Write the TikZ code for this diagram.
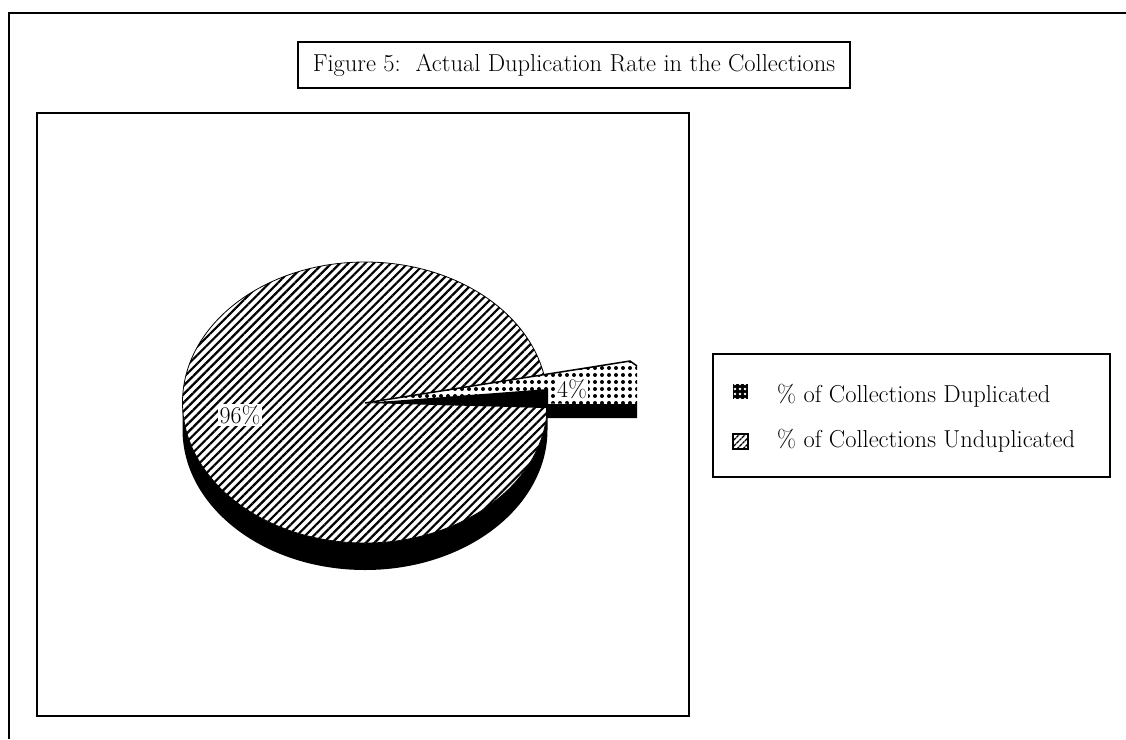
\documentclass[tikz,border=0pt]{standalone}
\usepackage{fontspec}
\usetikzlibrary{patterns.meta}

\begin{document}
\begin{tikzpicture}[x=1pt,y=1pt,
    frame/.style={draw=black,line width=1.4pt},
    hatched/.style={preaction={fill=white},pattern={Lines[angle=45,distance=6pt,line width=2.2pt]}},
    dotted fill/.style={preaction={fill=white},pattern={Dots[distance=7pt,radius=2pt]}},
    lbl/.style={font=\fontsize{24.5}{29}\selectfont},
    pct/.style={font=\fontsize{24}{28}\selectfont,fill=white,inner sep=1.5pt}]
    \useasboundingbox (0,0) rectangle (1126,-739);
    % outer frame and boxes
    \draw [frame] (1126,-13) -- (9,-13) -- (9,-739);
    \node [frame,lbl,minimum width=552pt,minimum height=46pt,inner sep=0pt] (title) at (574,-65) {Figure 5:\ \ Actual Duplication Rate in the Collections};
    \draw [frame] (37,-113) rectangle (689,-716);
    \draw [frame] (713,-354) rectangle (1110,-477);
    % pie side and top
    \fill [black] (547.5,-402.5) -- ++(0,-27) arc [start angle=0,end angle=-180,x radius=182.5,y radius=140.5] -- ++(0,27) arc [start angle=180,end angle=360,x radius=182.5,y radius=140.5] -- cycle;
    \path [hatched] (365,-402.5) ellipse [x radius=182.5,y radius=140.5];
    \draw [black,line width=0.8pt] (365,-402.5) ellipse [x radius=182.5,y radius=140.5];
    % exploded slice
    \path [dotted fill] (365,-403) -- (630,-361) -- (637,-366) -- (637,-404) -- cycle;
    \draw [black,line width=1.5pt] (365,-403) -- (630,-361) -- (637,-366);
    \fill [black] (365,-403) -- (548,-389) -- (548,-404) -- (637,-404) -- (637,-418) -- (546,-418) -- (546,-408) -- cycle;
    \node [pct] (pctDup) at (572,-389) {4\%};
    \node [pct] (pctUndup) at (240,-415) {96\%};
    % legend
    \fill [black] (733,-384) rectangle (748,-399);
    \path [pattern={Dots[distance=5pt,radius=1.3pt]},pattern color=white] (733,-384) rectangle (748,-399);
    \path [preaction={fill=white},pattern={Lines[angle=45,distance=4pt,line width=1.4pt]}] (733,-434) rectangle (748,-449);
    \draw [black,line width=1.2pt] (733,-434) rectangle (748,-449);
    \node [lbl,anchor=west,inner sep=0pt] (dupText) at (777,-396) {\% of Collections Duplicated};
    \node [lbl,anchor=west,inner sep=0pt] (undupText) at (777,-441) {\% of Collections Unduplicated};
\end{tikzpicture}
\end{document}
